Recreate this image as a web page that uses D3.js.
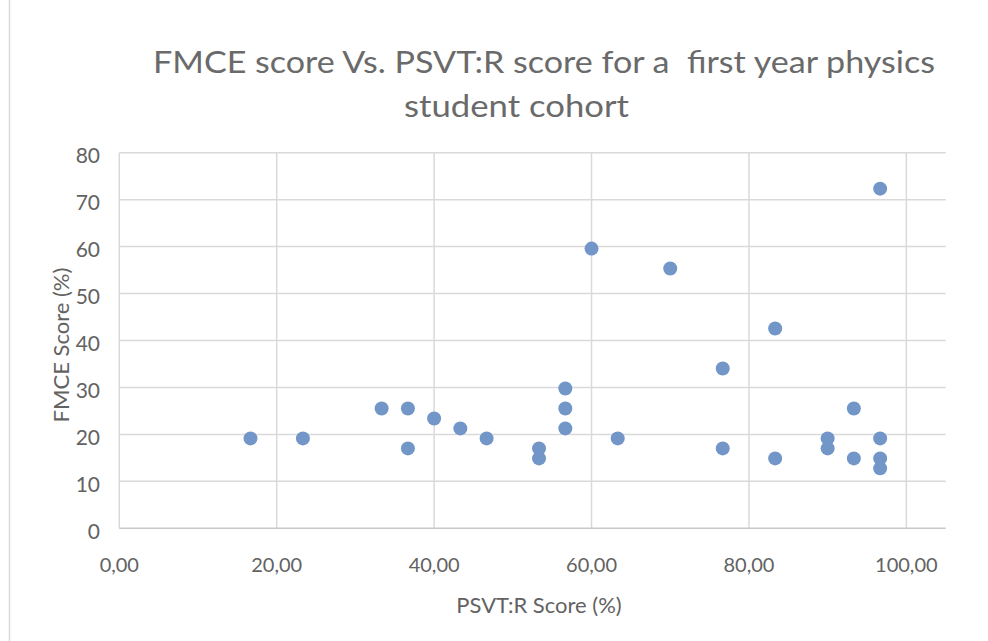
<!DOCTYPE html>
<html>
<head>
<meta charset="utf-8">
<script src="https://cdnjs.cloudflare.com/ajax/libs/d3/7.8.5/d3.min.js"></script>
<style>
  html, body { margin: 0; padding: 0; background: #ffffff; }
  svg { display: block; }
  text { font-family: Lato, "Open Sans", sans-serif; fill: #626262; }
</style>
</head>
<body>
<svg id="chart" width="988" height="641"></svg>
<script>
// PSVT:R score (%) per student
const psvtScores = [16.67, 23.33, 33.33, 36.67, 36.67, 40.00, 43.33, 46.67, 53.33, 53.33,
                    56.67, 56.67, 56.67, 60.00, 63.33, 70.00, 76.67, 76.67, 83.33, 83.33,
                    90.00, 90.00, 93.33, 93.33, 96.67, 96.67, 96.67, 96.67];
// FMCE score (%) per student
const fmceScores = [19.15, 19.15, 25.53, 25.53, 17.02, 23.40, 21.28, 19.15, 17.02, 14.89,
                    29.79, 25.53, 21.28, 59.57, 19.15, 55.32, 34.04, 17.02, 42.55, 14.89,
                    19.15, 17.02, 25.53, 14.89, 72.34, 19.15, 14.89, 12.77];
const xTicks = [0, 20, 40, 60, 80, 100];
const yTicks = [0, 10, 20, 30, 40, 50, 60, 70, 80];
const titleLines = ["FMCE score Vs. PSVT:R score for a  first year physics", "student cohort"];
const xTitle = "PSVT:R Score (%)";
const yTitle = "FMCE Score (%)";

const svg = d3.select("#chart");
const pLeft = 119.3, pRight = 945.7, pTop = 152.7, pBottom = 528.3;

const x = d3.scaleLinear().domain([0, 105]).range([pLeft, pRight]);
const y = d3.scaleLinear().domain([0, 80]).range([pBottom, pTop]);

// chart area border (left edge visible)
svg.append("line").attr("x1", 9.5).attr("x2", 9.5).attr("y1", 0).attr("y2", 641)
  .attr("stroke", "#d9d9d9").attr("stroke-width", 1.5);

// horizontal gridlines
svg.append("g").selectAll("line").data(yTicks.filter(d => d > 0)).join("line")
  .attr("x1", pLeft).attr("x2", pRight)
  .attr("y1", d => y(d)).attr("y2", d => y(d))
  .attr("stroke", "#d9d9d9").attr("stroke-width", 1.5);

// vertical gridlines
svg.append("g").selectAll("line").data(xTicks).join("line")
  .attr("x1", d => x(d)).attr("x2", d => x(d))
  .attr("y1", pTop).attr("y2", pBottom)
  .attr("stroke", "#d9d9d9").attr("stroke-width", 1.5);

// bottom axis line
svg.append("line").attr("x1", pLeft).attr("x2", pRight).attr("y1", pBottom).attr("y2", pBottom)
  .attr("stroke", "#c8c8c8").attr("stroke-width", 1.5);

// tick labels
const fmtX = d => d3.format(".2f")(d).replace(".", ",");
svg.append("g").selectAll("text").data(xTicks).join("text")
  .attr("x", d => x(d)).attr("y", 572)
  .attr("text-anchor", "middle")
  .style("font-size", "20px")
  .text(fmtX);

svg.append("g").selectAll("text").data(yTicks).join("text")
  .attr("x", 100).attr("y", d => y(d) + 5)
  .attr("text-anchor", "end")
  .attr("dominant-baseline", "middle")
  .style("font-size", "21px")
  .text(d => d);

// axis titles
svg.append("text").attr("x", 539).attr("y", 613)
  .attr("text-anchor", "middle").style("font-size", "22px").text(xTitle);
svg.append("text")
  .attr("transform", "translate(69,345) rotate(-90)")
  .attr("text-anchor", "middle").style("font-size", "22px").text(yTitle);

// title
svg.append("text").attr("x", 153).attr("y", 73)
  .attr("textLength", 782).attr("lengthAdjust", "spacingAndGlyphs")
  .style("font-size", "31px").style("fill", "#6a6a6a").style("white-space", "pre").text(titleLines[0]);
svg.append("text").attr("x", 404).attr("y", 117)
  .attr("textLength", 225).attr("lengthAdjust", "spacingAndGlyphs")
  .style("font-size", "31px").style("fill", "#6a6a6a").text(titleLines[1]);

// points
const pts = psvtScores.map((v, i) => ({ px: v, fm: fmceScores[i] }));
svg.append("g").selectAll("circle").data(pts).join("circle")
  .attr("cx", d => x(d.px)).attr("cy", d => y(d.fm))
  .attr("r", 7)
  .attr("fill", "#7296c8");
</script>
</body>
</html>
